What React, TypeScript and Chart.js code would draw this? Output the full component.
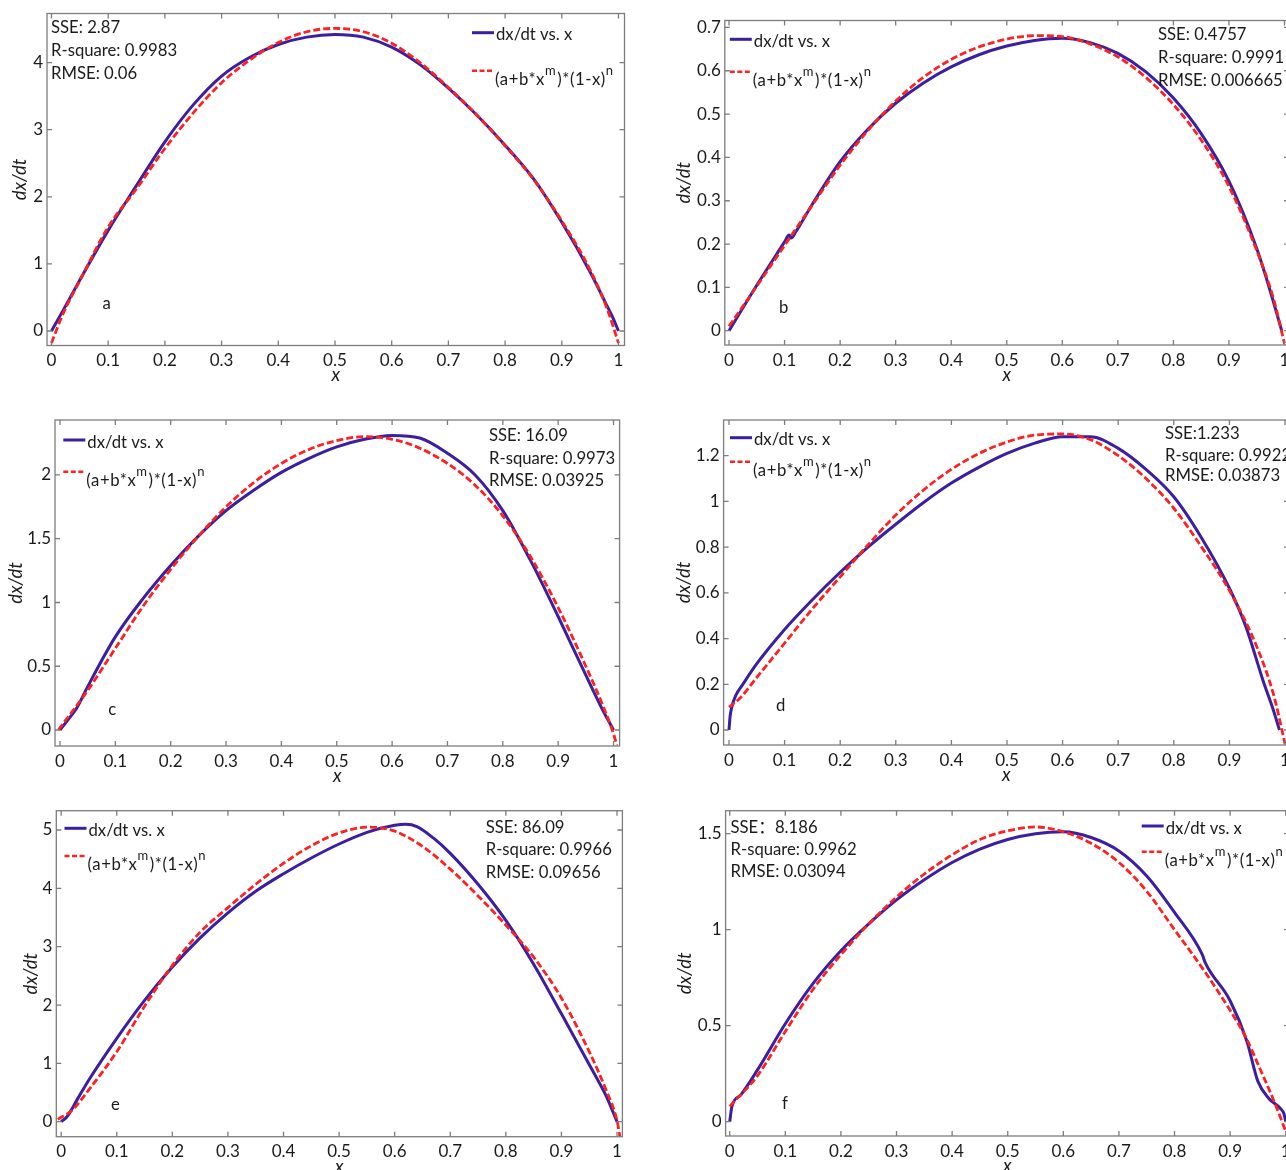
import React, { useEffect, useRef } from 'react';
import { Chart, registerables } from 'chart.js';

Chart.register(...registerables);

// ---------------- data ----------------
const xTicks = [0, 0.1, 0.2, 0.3, 0.4, 0.5, 0.6, 0.7, 0.8, 0.9, 1];
const xTickLabels = ['0', '0.1', '0.2', '0.3', '0.4', '0.5', '0.6', '0.7', '0.8', '0.9', '1'];

const legendBlue = 'dx/dt vs. x';
const legendRedParts = [
  { t: '(a+b*x', sup: false },
  { t: 'm', sup: true },
  { t: ')*(1-x)', sup: false },
  { t: 'n', sup: true },
];
const xTitle = 'x';
const yTitle = 'dx/dt';

// panel a
const aBlueX = [0, 0.02, 0.05, 0.1, 0.15, 0.2, 0.25, 0.3, 0.35, 0.4, 0.45, 0.5, 0.55, 0.6, 0.65, 0.7, 0.75, 0.8, 0.85, 0.9, 0.95, 0.98, 0.99, 1.0];
const aBlueY = [0, 0.3, 0.76, 1.5, 2.17, 2.82, 3.37, 3.8, 4.08, 4.27, 4.38, 4.42, 4.38, 4.23, 3.97, 3.62, 3.22, 2.77, 2.27, 1.62, 0.88, 0.37, 0.2, 0.0];
const aRedX = [0, 0.02, 0.05, 0.1, 0.15, 0.2, 0.25, 0.3, 0.35, 0.4, 0.45, 0.5, 0.55, 0.6, 0.65, 0.7, 0.75, 0.8, 0.85, 0.9, 0.95, 0.98, 1.0];
const aRedY = [-0.18, 0.25, 0.75, 1.55, 2.12, 2.72, 3.25, 3.7, 4.04, 4.3, 4.46, 4.51, 4.46, 4.29, 4.0, 3.63, 3.22, 2.76, 2.26, 1.64, 0.91, 0.33, -0.18];
const aYTicks = [0, 1, 2, 3, 4];
const aYTickLabels = ['0', '1', '2', '3', '4'];
const aStats = ['SSE: 2.87', 'R-square: 0.9983', 'RMSE: 0.06'];

// panel b
const bBlueX = [0, 0.05, 0.1, 0.108, 0.112, 0.12, 0.15, 0.2, 0.25, 0.3, 0.35, 0.4, 0.45, 0.5, 0.55, 0.6, 0.65, 0.7, 0.75, 0.8, 0.85, 0.9, 0.95, 0.97, 0.995];
const bBlueY = [0, 0.105, 0.205, 0.221, 0.214, 0.228, 0.292, 0.39, 0.465, 0.525, 0.572, 0.609, 0.637, 0.657, 0.67, 0.675, 0.665, 0.64, 0.598, 0.537, 0.455, 0.345, 0.19, 0.11, 0.0];
const bRedX = [0, 0.05, 0.1, 0.15, 0.2, 0.25, 0.3, 0.35, 0.4, 0.45, 0.5, 0.55, 0.6, 0.65, 0.7, 0.75, 0.8, 0.85, 0.9, 0.95, 0.98, 1.0];
const bRedY = [0.01, 0.103, 0.197, 0.29, 0.382, 0.462, 0.53, 0.585, 0.626, 0.655, 0.673, 0.681, 0.679, 0.662, 0.632, 0.585, 0.522, 0.44, 0.333, 0.185, 0.075, -0.03];
const bYTicks = [0, 0.1, 0.2, 0.3, 0.4, 0.5, 0.6, 0.7];
const bYTickLabels = ['0', '0.1', '0.2', '0.3', '0.4', '0.5', '0.6', '0.7'];
const bStats = ['SSE: 0.4757', 'R-square: 0.9991', 'RMSE: 0.006665'];

// panel c
const cBlueX = [0, 0.02, 0.03, 0.05, 0.1, 0.15, 0.2, 0.25, 0.3, 0.35, 0.4, 0.45, 0.5, 0.55, 0.6, 0.65, 0.7, 0.75, 0.8, 0.85, 0.9, 0.95, 0.98, 1.0];
const cBlueY = [0, 0.11, 0.17, 0.34, 0.73, 1.03, 1.29, 1.52, 1.72, 1.88, 2.02, 2.13, 2.22, 2.28, 2.31, 2.29, 2.17, 2.0, 1.72, 1.33, 0.89, 0.43, 0.16, 0.0];
const cRedX = [-0.003, 0.05, 0.1, 0.15, 0.2, 0.25, 0.3, 0.35, 0.4, 0.45, 0.5, 0.55, 0.6, 0.65, 0.7, 0.75, 0.8, 0.85, 0.9, 0.95, 0.98, 1.0, 1.006];
const cRedY = [0.0, 0.31, 0.64, 0.97, 1.26, 1.52, 1.75, 1.94, 2.09, 2.2, 2.27, 2.3, 2.28, 2.21, 2.09, 1.92, 1.68, 1.36, 0.96, 0.5, 0.2, -0.03, -0.12];
const cYTicks = [0, 0.5, 1, 1.5, 2];
const cYTickLabels = ['0', '0.5', '1', '1.5', '2'];
const cStats = ['SSE: 16.09', 'R-square: 0.9973', 'RMSE: 0.03925'];

// panel d
const dBlueX = [0, 0.002, 0.005, 0.012, 0.025, 0.05, 0.1, 0.15, 0.2, 0.25, 0.3, 0.35, 0.4, 0.45, 0.5, 0.55, 0.6, 0.65, 0.7, 0.75, 0.8, 0.85, 0.9, 0.93, 0.96, 0.98, 0.99];
const dBlueY = [0, 0.06, 0.1, 0.15, 0.2, 0.29, 0.44, 0.57, 0.69, 0.8, 0.9, 0.995, 1.08, 1.15, 1.21, 1.255, 1.283, 1.283, 1.232, 1.14, 1.02, 0.84, 0.62, 0.45, 0.22, 0.08, 0.0];
const dRedX = [0, 0.02, 0.05, 0.1, 0.15, 0.2, 0.25, 0.3, 0.35, 0.4, 0.45, 0.5, 0.55, 0.6, 0.65, 0.7, 0.75, 0.8, 0.85, 0.9, 0.95, 0.98, 1.0];
const dRedY = [0.1, 0.14, 0.23, 0.38, 0.53, 0.67, 0.81, 0.94, 1.05, 1.14, 1.21, 1.26, 1.29, 1.295, 1.27, 1.2, 1.1, 0.97, 0.8, 0.61, 0.36, 0.15, -0.06];
const dYTicks = [0, 0.2, 0.4, 0.6, 0.8, 1, 1.2];
const dYTickLabels = ['0', '0.2', '0.4', '0.6', '0.8', '1', '1.2'];
const dStats = ['SSE:1.233', 'R-square: 0.9922', 'RMSE: 0.03873'];

// panel e
const eBlueX = [0, 0.01, 0.03, 0.05, 0.1, 0.15, 0.2, 0.25, 0.3, 0.35, 0.4, 0.45, 0.5, 0.55, 0.6, 0.62, 0.64, 0.67, 0.7, 0.75, 0.8, 0.85, 0.9, 0.95, 0.98, 1.0];
const eBlueY = [0, 0.08, 0.4, 0.72, 1.43, 2.08, 2.65, 3.15, 3.58, 3.95, 4.25, 4.52, 4.76, 4.96, 5.08, 5.1, 5.06, 4.86, 4.6, 4.07, 3.45, 2.7, 1.85, 0.98, 0.45, 0.0];
const eRedX = [-0.006, 0.02, 0.05, 0.1, 0.15, 0.2, 0.25, 0.3, 0.35, 0.4, 0.45, 0.5, 0.55, 0.6, 0.65, 0.7, 0.75, 0.8, 0.85, 0.9, 0.95, 0.98, 1.0, 1.006];
const eRedY = [0.04, 0.2, 0.55, 1.2, 1.98, 2.68, 3.25, 3.67, 4.07, 4.43, 4.73, 4.95, 5.05, 4.98, 4.72, 4.33, 3.87, 3.37, 2.82, 2.12, 1.2, 0.55, 0.02, -0.3];
const eYTicks = [0, 1, 2, 3, 4, 5];
const eYTickLabels = ['0', '1', '2', '3', '4', '5'];
const eStats = ['SSE: 86.09', 'R-square: 0.9966', 'RMSE: 0.09656'];

// panel f
const fBlueX = [0, 0.004, 0.02, 0.05, 0.1, 0.15, 0.2, 0.25, 0.3, 0.35, 0.4, 0.45, 0.5, 0.55, 0.6, 0.65, 0.7, 0.75, 0.8, 0.85, 0.855, 0.9, 0.93, 0.95, 0.97, 0.99, 0.997, 1.0];
const fBlueY = [0, 0.08, 0.14, 0.27, 0.51, 0.72, 0.89, 1.03, 1.155, 1.26, 1.35, 1.42, 1.47, 1.5, 1.51, 1.48, 1.41, 1.28, 1.09, 0.87, 0.83, 0.63, 0.42, 0.21, 0.12, 0.07, 0.04, 0.0];
const fRedX = [0, 0.05, 0.1, 0.15, 0.2, 0.25, 0.3, 0.35, 0.4, 0.45, 0.5, 0.55, 0.6, 0.65, 0.7, 0.75, 0.8, 0.85, 0.9, 0.93, 0.95, 0.98, 1.0];
const fRedY = [0.08, 0.24, 0.47, 0.69, 0.87, 1.03, 1.17, 1.29, 1.39, 1.47, 1.515, 1.535, 1.51, 1.45, 1.35, 1.2, 1.0, 0.8, 0.58, 0.43, 0.3, 0.1, -0.05];
const fYTicks = [0, 0.5, 1, 1.5];
const fYTickLabels = ['0', '0.5', '1', '1.5'];
const fStats = ['SSE\uFF1A8.186', 'R-square: 0.9962', 'RMSE: 0.03094'];

// ---------------- styles & layout ----------------
const FONT = 'Lato, "Noto Sans CJK SC", sans-serif';
const BLUE = '#3b1fa0';
const RED = '#ff2020';
const FRAME = '#7d7d7d';
const TEXT = '#1a1a1a';
const TICK_LEN = 5;
const TICK_FONT = 17;
const TEXT_FONT = 16.7;
const SUP_FONT = 13;
const TITLE_FONT = 18.5;
const PAD_T = 16;
const X_H = 40;

type Panel = {
  letter: string;
  blueX: number[]; blueY: number[]; redX: number[]; redY: number[];
  yTicks: number[]; yTickLabels: string[];
  stats: string[];
  xMin: number; xMax: number; yMin: number; yMax: number;
  frame: { l: number; t: number; r: number; b: number };
  titleX: number;
  statsX: number; statsY: number[];
  letterPos: [number, number];
  legend: { x: number; y1: number; y2: number };
};

const panels: Panel[] = [
  {
    letter: 'a', blueX: aBlueX, blueY: aBlueY, redX: aRedX, redY: aRedY,
    yTicks: aYTicks, yTickLabels: aYTickLabels, stats: aStats,
    xMin: -0.0079, xMax: 1.0106, yMin: -0.216, yMax: 4.732,
    frame: { l: 47, t: 13.5, r: 624.5, b: 345.5 }, titleX: 20,
    statsX: 4, statsY: [19.6, 42.3, 65], letterPos: [59.7, 295.5],
    legend: { x: 425, y1: 19.2, y2: 57.2 },
  },
  {
    letter: 'b', blueX: bBlueX, blueY: bBlueY, redX: bRedX, redY: bRedY,
    yTicks: bYTicks, yTickLabels: bYTickLabels, stats: bStats,
    xMin: -0.0076, xMax: 1.0081, yMin: -0.033, yMax: 0.716,
    frame: { l: 724.8, t: 20.5, r: 1289, b: 345 }, titleX: 684.5,
    statsX: 433.2, statsY: [19.6, 42.6, 65.3], letterPos: [58.8, 292.2],
    legend: { x: 5, y1: 18.8, y2: 51.2 },
  },
  {
    letter: 'c', blueX: cBlueX, blueY: cBlueY, redX: cRedX, redY: cRedY,
    yTicks: cYTicks, yTickLabels: cYTickLabels, stats: cStats,
    xMin: -0.009, xMax: 1.011, yMin: -0.1255, yMax: 2.431,
    frame: { l: 55, t: 420, r: 619.6, b: 746 }, titleX: 16.3,
    statsX: 434, statsY: [20.8, 43.5, 65.8], letterPos: [57.2, 294.7],
    legend: { x: 8.3, y1: 20, y2: 51.7 },
  },
  {
    letter: 'd', blueX: dBlueX, blueY: dBlueY, redX: dRedX, redY: dRedY,
    yTicks: dYTicks, yTickLabels: dYTickLabels, stats: dStats,
    xMin: -0.0097, xMax: 1.0072, yMin: -0.0656, yMax: 1.356,
    frame: { l: 723.6, t: 420, r: 1289, b: 745 }, titleX: 684.5,
    statsX: 441.4, statsY: [19.1, 40.8, 60.8], letterPos: [57.1, 291],
    legend: { x: 6.4, y1: 17.7, y2: 41.7 },
  },
  {
    letter: 'e', blueX: eBlueX, blueY: eBlueY, redX: eRedX, redY: eRedY,
    yTicks: eYTicks, yTickLabels: eYTickLabels, stats: eStats,
    xMin: -0.0088, xMax: 1.0097, yMin: -0.257, yMax: 5.331,
    frame: { l: 56.3, t: 810.7, r: 622.4, b: 1136.7 }, titleX: 30.6,
    statsX: 429.4, statsY: [21.8, 44.4, 66.8], letterPos: [59.2, 299.3],
    legend: { x: 8.2, y1: 17.6, y2: 45.3 },
  },
  {
    letter: 'f', blueX: fBlueX, blueY: fBlueY, redX: fRedX, redY: fRedY,
    yTicks: fYTicks, yTickLabels: fYTickLabels, stats: fStats,
    xMin: -0.0074, xMax: 1.0059, yMin: -0.0744, yMax: 1.6197,
    frame: { l: 725.6, t: 810.7, r: 1289, b: 1136 }, titleX: 685,
    statsX: 4.9, statsY: [21.8, 44.4, 66.1], letterPos: [59.2, 298],
    legend: { x: 416.1, y1: 15.3, y2: 41 },
  },
];

function geometry(p: Panel) {
  const half = (TITLE_FONT * 1.2) / 2;
  const left = Math.round(p.titleX - half);
  const top = Math.round(p.frame.t - PAD_T);
  const yW = p.frame.l - left;
  const titlePad = p.titleX - left - half;
  const padTop = p.frame.t - top;
  const fw = p.frame.r - p.frame.l;
  const fh = p.frame.b - p.frame.t;
  const W = Math.ceil(yW + fw + 16);
  const padRight = W - yW - fw;
  const H = Math.ceil(padTop + fh + X_H + 2);
  const padBottom = H - padTop - fh - X_H;
  return { left, top, yW, padTop, W, padRight, H, padBottom, titlePad };
}

function decorPlugin(p: Panel) {
  return {
    id: 'decor_' + p.letter,
    afterDatasetsDraw(chart: any) {
      const { ctx, chartArea: ca, scales } = chart;
      const xs = scales.x;
      const ys = scales.y;
      ctx.save();
      // frame
      ctx.strokeStyle = FRAME;
      ctx.lineWidth = 1.3;
      ctx.setLineDash([]);
      ctx.strokeRect(ca.left, ca.top, ca.right - ca.left, ca.bottom - ca.top);
      // inward ticks on all four sides
      ctx.beginPath();
      xTicks.forEach((v) => {
        const px = xs.getPixelForValue(v);
        ctx.moveTo(px, ca.bottom); ctx.lineTo(px, ca.bottom - TICK_LEN);
        ctx.moveTo(px, ca.top); ctx.lineTo(px, ca.top + TICK_LEN);
      });
      p.yTicks.forEach((v) => {
        const py = ys.getPixelForValue(v);
        ctx.moveTo(ca.left, py); ctx.lineTo(ca.left + TICK_LEN, py);
        ctx.moveTo(ca.right, py); ctx.lineTo(ca.right - TICK_LEN, py);
      });
      ctx.stroke();

      // stats text
      ctx.fillStyle = TEXT;
      ctx.font = `${TEXT_FONT}px ${FONT}`;
      ctx.textBaseline = 'alphabetic';
      ctx.textAlign = 'left';
      p.stats.forEach((s, i) => ctx.fillText(s, ca.left + p.statsX, ca.top + p.statsY[i]));

      // panel letter
      ctx.textAlign = 'center';
      ctx.fillText(p.letter, ca.left + p.letterPos[0], ca.top + p.letterPos[1]);

      // legend
      ctx.textAlign = 'left';
      const lx = ca.left + p.legend.x;
      const r1 = ca.top + p.legend.y1;
      const r2 = ca.top + p.legend.y2;
      ctx.strokeStyle = BLUE;
      ctx.lineWidth = 3;
      ctx.beginPath();
      ctx.moveTo(lx, r1); ctx.lineTo(lx + 22, r1);
      ctx.stroke();
      ctx.fillText(legendBlue, lx + 24, r1 + 7.5);

      ctx.strokeStyle = RED;
      ctx.lineWidth = 2.6;
      ctx.setLineDash([5, 2.5]);
      ctx.beginPath();
      ctx.moveTo(lx, r2); ctx.lineTo(lx + 21, r2);
      ctx.stroke();
      ctx.setLineDash([]);
      let tx = lx + 23;
      const by = r2 + 14;
      try { (ctx as any).letterSpacing = '0.6px'; } catch (e) { /* ignore */ }
      legendRedParts.forEach((part) => {
        ctx.font = `${part.sup ? SUP_FONT : TEXT_FONT}px ${FONT}`;
        ctx.fillText(part.t, tx, part.sup ? by - 10 : by);
        tx += ctx.measureText(part.t).width + (part.sup ? 1 : 0);
      });
      try { (ctx as any).letterSpacing = '0px'; } catch (e) { /* ignore */ }
      ctx.restore();
    },
  };
}

function PanelChart({ p }: { p: Panel }) {
  const ref = useRef<HTMLCanvasElement>(null);
  const g = geometry(p);
  useEffect(() => {
    const canvas = ref.current;
    if (!canvas) return;
    const tickFont = { family: FONT, size: TICK_FONT };
    const chart = new Chart(canvas, {
      type: 'line',
      data: {
        datasets: [
          {
            label: '(a+b*x^m)*(1-x)^n',
            data: p.redX.map((x, i) => ({ x, y: p.redY[i] })),
            borderColor: RED,
            borderWidth: 2.8,
            borderDash: [7, 3],
            pointRadius: 0,
            fill: false,
            cubicInterpolationMode: 'monotone',
            clip: 0,
          },
          {
            label: legendBlue,
            data: p.blueX.map((x, i) => ({ x, y: p.blueY[i] })),
            borderColor: BLUE,
            borderWidth: 3,
            pointRadius: 0,
            fill: false,
            cubicInterpolationMode: 'monotone',
            clip: 0,
          },
        ],
      },
      options: {
        animation: false,
        responsive: false,
        devicePixelRatio: 1,
        layout: { padding: { top: g.padTop, right: g.padRight, bottom: g.padBottom, left: 0 } },
        plugins: { legend: { display: false }, tooltip: { enabled: false }, title: { display: false } },
        scales: {
          x: {
            type: 'linear',
            min: p.xMin,
            max: p.xMax,
            afterBuildTicks: (s: any) => { s.ticks = xTicks.map((v) => ({ value: v })); },
            afterFit: (s: any) => { s.height = X_H; },
            ticks: {
              autoSkip: false, maxRotation: 0, minRotation: 0, padding: 5,
              font: tickFont, color: TEXT,
              callback: (_v: any, i: number) => xTickLabels[i],
            },
            grid: { display: false, drawTicks: false },
            border: { display: false },
            title: {
              display: true, text: xTitle, color: TEXT,
              font: { family: FONT, size: TITLE_FONT, style: 'italic' },
              padding: { top: 0, bottom: -1 },
            },
          },
          y: {
            type: 'linear',
            min: p.yMin,
            max: p.yMax,
            afterBuildTicks: (s: any) => { s.ticks = p.yTicks.map((v) => ({ value: v })); },
            afterFit: (s: any) => { s.width = g.yW; },
            ticks: {
              autoSkip: false, padding: 4, font: tickFont, color: TEXT,
              callback: (_v: any, i: number) => p.yTickLabels[i],
            },
            grid: { display: false, drawTicks: false },
            border: { display: false },
            title: {
              display: true, text: yTitle, color: TEXT,
              font: { family: FONT, size: TITLE_FONT, style: 'italic' },
              padding: { top: g.titlePad, bottom: 0 },
            },
          },
        },
      },
      plugins: [decorPlugin(p)],
    } as any);
    return () => chart.destroy();
  }, []);
  return (
    <canvas
      ref={ref}
      width={g.W}
      height={g.H}
      style={{ position: 'absolute', left: g.left, top: g.top, width: g.W, height: g.H }}
    />
  );
}

export default function App() {
  return (
    <div
      style={{
        position: 'absolute', left: 0, top: 0, width: 1286, height: 1170,
        overflow: 'hidden', background: '#ffffff',
      }}
    >
      {panels.map((p) => (
        <PanelChart key={p.letter} p={p} />
      ))}
    </div>
  );
}
